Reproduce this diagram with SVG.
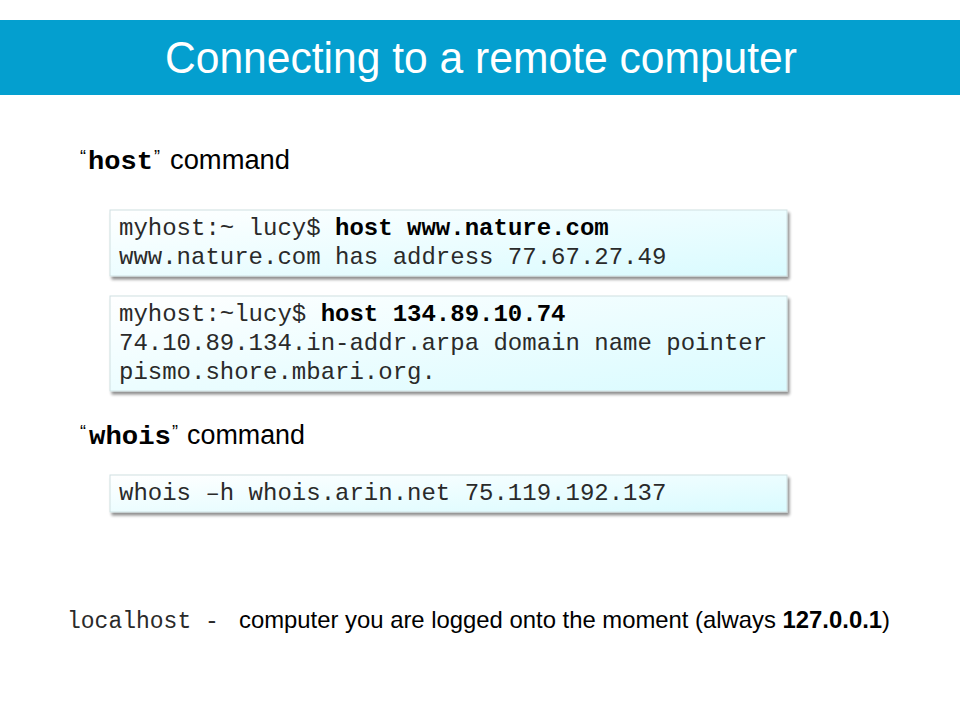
<svg xmlns="http://www.w3.org/2000/svg" width="960" height="720" viewBox="0 0 960 720">
<defs>
<linearGradient id="boxfill" x1="0" y1="0" x2="1" y2="1">
<stop offset="0" stop-color="#ffffff"/>
<stop offset="1" stop-color="#d9fbff"/>
</linearGradient>
<filter id="shadow" x="-5%" y="-20%" width="110%" height="150%">
<feGaussianBlur in="SourceAlpha" stdDeviation="1.5"/>
<feOffset dx="2" dy="3" result="b"/>
<feComponentTransfer><feFuncA type="linear" slope="0.45"/></feComponentTransfer>
<feMerge><feMergeNode/><feMergeNode in="SourceGraphic"/></feMerge>
</filter>
</defs>
<style>
.box{fill:url(#boxfill);stroke:#cfe0e2;stroke-width:1;filter:url(#shadow)}
.mono{font-family:"Liberation Mono","Courier New",monospace;font-size:24px;fill:#2a2a2a}
.b{font-weight:bold;fill:#000}
.sans{font-family:"Liberation Sans",Arial,sans-serif;fill:#000}
.q{font-family:"Liberation Sans",Arial,sans-serif;font-size:18px;fill:#000}
.cmd{font-family:"Liberation Sans",Arial,sans-serif;font-size:27px;fill:#000}
</style>
<rect width="960" height="720" fill="#ffffff"/>
<g id="title">
<rect x="0" y="20" width="960" height="75" fill="#049fcf"/>
<text x="165" y="73" class="sans" font-size="44" style="fill:#ffffff" textLength="632" lengthAdjust="spacingAndGlyphs">Connecting to a remote computer</text>
</g>
<g id="label-host">
<text class="q" x="80" y="163">“</text>
<text class="mono b" x="88" y="169" style="font-size:26px" textLength="65" lengthAdjust="spacingAndGlyphs">host</text>
<text class="q" x="154" y="163">”</text>
<text class="cmd" x="170" y="169" textLength="120" lengthAdjust="spacingAndGlyphs">command</text>
</g>
<g id="box-host1">
<rect class="box" x="110" y="210" width="677" height="66"/>
<text class="mono" x="119" y="235">myhost:~ lucy$ <tspan class="b">host www.nature.com</tspan></text>
<text class="mono" x="119" y="264">www.nature.com has address 77.67.27.49</text>
</g>
<g id="box-host2">
<rect class="box" x="110" y="296" width="677" height="95"/>
<text class="mono" x="119" y="321">myhost:~lucy$ <tspan class="b">host 134.89.10.74</tspan></text>
<text class="mono" x="119" y="350">74.10.89.134.in-addr.arpa domain name pointer</text>
<text class="mono" x="119" y="379">pismo.shore.mbari.org.</text>
</g>
<g id="label-whois">
<text class="q" x="80" y="438">“</text>
<text class="mono b" x="89" y="444" style="font-size:26px" textLength="82" lengthAdjust="spacingAndGlyphs">whois</text>
<text class="q" x="172" y="438">”</text>
<text class="cmd" x="187" y="444" textLength="118" lengthAdjust="spacingAndGlyphs">command</text>
</g>
<g id="box-whois">
<rect class="box" x="110" y="475" width="677" height="37"/>
<text class="mono" x="119" y="500">whois –h whois.arin.net 75.119.192.137</text>
</g>
<g id="localhost">
<text class="mono" x="67" y="628" style="font-size:23px">localhost  -</text>
<text class="sans" x="239" y="628" font-size="24" textLength="651" lengthAdjust="spacingAndGlyphs">computer you are logged onto the moment (always <tspan font-weight="bold">127.0.0.1</tspan>)</text>
</g>
<g id="connectors"></g>
</svg>
